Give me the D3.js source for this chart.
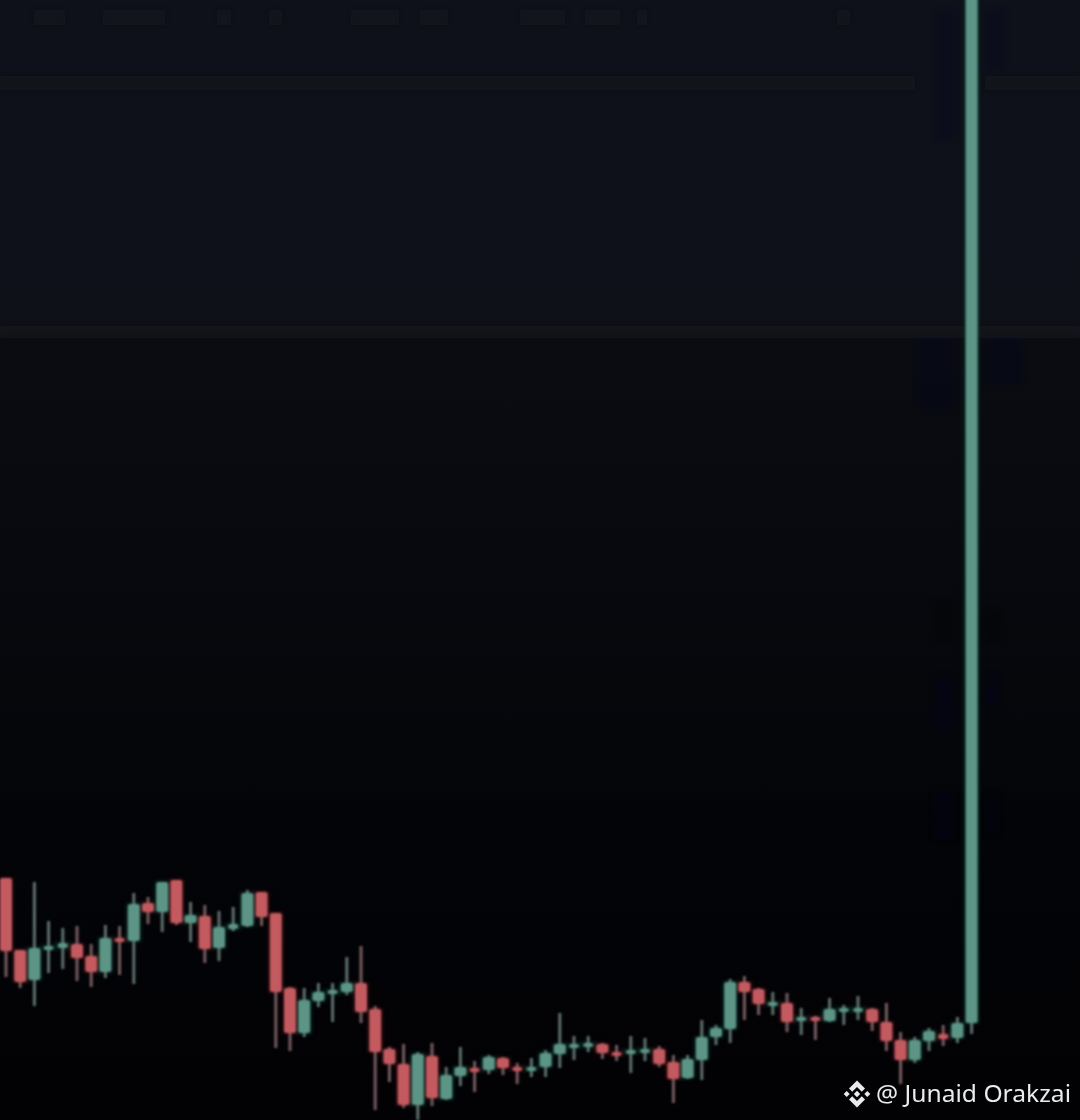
<!DOCTYPE html>
<html><head><meta charset="utf-8">
<script src="https://cdn.jsdelivr.net/npm/d3@7"></script>
<style>html,body{margin:0;padding:0;background:#020204;overflow:hidden}svg{display:block}</style>
</head><body>
<svg id="chart" width="1080" height="1120"></svg>
<script>
const direction = "RRGGG"+"RRGRG"+"RGRGR"+"GGGRR"+"RGGGG"+"RRRRG"+"RGGRG"+"RRGGG"+"GGRRG"+"GRRGG"+"GGRRG"+"RGRGG"+"GRRRG"+"GRGG";
const high = [24.2,17.0,23.8,19.9,19.2,19.4,17.6,19.5,19.4,22.7,22.3,23.8,24.0,21.8,21.5,20.9,21.3,23.0,22.8,20.7,13.3,13.2,13.7,13.7,16.3,17.4,11.4,7.3,7.6,6.8,7.7,5.3,7.3,5.9,6.5,6.3,5.7,6.2,7.0,10.7,8.4,8.4,7.7,7.5,8.4,8.2,7.4,6.5,6.5,10.0,9.5,14.1,14.4,13.2,12.8,12.7,11.2,10.4,12.2,11.5,12.4,11.2,11.7,8.8,8.3,9.2,9.5,10.3,113];
const bodyTop = [24.2,17.0,17.2,17.4,17.7,17.6,16.4,18.2,18.2,21.6,21.7,23.8,24.0,20.5,20.4,19.3,19.6,22.7,22.8,20.7,13.2,12.0,12.8,13.0,13.7,13.7,11.1,7.1,5.6,6.6,6.4,4.5,5.3,5.2,6.3,6.2,5.3,5.3,6.7,7.6,7.6,7.7,7.6,6.8,7.0,7.1,7.1,5.8,6.1,8.3,9.2,13.8,13.8,13.1,11.8,11.7,10.3,10.3,11.1,11.2,11.2,11.1,9.8,8.0,8.0,8.9,8.6,9.7,113];
const bodyBottom = [16.9,13.8,14.0,17.1,17.2,16.2,14.8,14.8,17.9,17.9,20.8,20.8,19.7,19.7,17.1,17.2,19.1,19.4,20.3,12.8,8.7,8.7,11.9,12.6,12.8,10.8,6.8,5.6,1.5,1.5,2.2,2.1,4.4,5.1,5.0,5.2,5.1,5.1,5.3,6.6,7.3,7.3,6.7,6.6,6.7,6.9,5.6,4.1,4.2,6.0,8.3,9.1,12.8,11.6,11.5,9.8,9.9,10.0,9.9,10.9,10.9,9.8,7.9,6.0,6.0,7.9,8.1,8.2,9.7];
const low = [14.3,13.2,11.4,14.7,15.1,13.9,13.3,14.2,14.5,13.6,19.6,18.8,19.5,17.8,15.7,15.9,18.9,19.3,19.4,7.2,6.9,8.3,11.3,9.8,12.5,9.7,1.0,3.8,1.2,0,1.4,2.0,3.4,2.8,4.6,4.5,3.6,4.3,4.3,5.2,6.0,6.8,6.1,5.9,4.7,5.9,5.3,1.7,4.1,4.0,7.5,7.7,10.0,10.5,10.5,8.8,8.5,8.0,9.8,9.5,10.0,8.9,6.9,3.6,5.7,6.9,7.4,7.7,8.6];
const watermark = "@ Junaid Orakzai";

const candles = d3.range(high.length).map(i => ({i, up: direction[i]==="G", h: high[i], t: bodyTop[i], b: bodyBottom[i], l: low[i]}));
const W = 1080, H = 1120;
const x = d3.scaleLinear().domain([0, 68]).range([6, 971.6]);
const y = d3.scaleLinear().domain([0, 112]).range([H, 0]);
const svg = d3.select("#chart");
const defs = svg.append("defs");

const grad = defs.append("linearGradient").attr("id","bg").attr("x1",0).attr("x2",0).attr("y1",0).attr("y2",1);
[[0,"#0e1119"],[0.295,"#0f1119"],[0.307,"#0a0c12"],[0.5,"#08090e"],[0.69,"#05060a"],[0.72,"#030407"],[1,"#020205"]]
  .forEach(([o,c]) => grad.append("stop").attr("offset",o).attr("stop-color",c));
const soft = defs.append("filter").attr("id","soft").attr("x","-60%").attr("y","-5%").attr("width","220%").attr("height","110%");
soft.append("feGaussianBlur").attr("stdDeviation",0.8);
const glow = defs.append("filter").attr("id","glow").attr("x","-100%").attr("y","-10%").attr("width","300%").attr("height","120%");
glow.append("feGaussianBlur").attr("stdDeviation",2);
const haze = defs.append("filter").attr("id","haze").attr("x","-30%").attr("y","-30%").attr("width","160%").attr("height","160%");
haze.append("feGaussianBlur").attr("stdDeviation",2.5);

svg.append("rect").attr("width",W).attr("height",H).attr("fill","url(#bg)");

// faint compression residue carried by the source frame
const residue = svg.append("g").attr("filter","url(#haze)");
const residueBlocks = [
  [0,76,915,14,"#1b1a20",0.3],[985,76,95,14,"#1b1a20",0.3],
  [0,326,1080,12,"#1d1219",0.35],
  [34,10,31,15,"#1c1d24",0.2],[103,10,62,15,"#1c1d24",0.2],[217,10,14,15,"#1c1d24",0.2],[269,10,13,15,"#1c1d24",0.2],
  [351,10,48,15,"#1c1d24",0.2],[420,10,28,15,"#1c1d24",0.2],[520,10,45,15,"#1c1d24",0.2],[585,10,35,15,"#1c1d24",0.2],
  [637,10,10,15,"#1c1d24",0.2],[837,10,13,15,"#1c1d24",0.2],
  [935,10,20,130,"#171a20",0.2],[985,10,20,60,"#171a20",0.2],
  [918,340,36,70,"#12131a",0.25],[985,340,36,45,"#12131a",0.25],
  [934,600,18,40,"#15151b",0.2],[985,610,16,30,"#15151b",0.2],
  [934,675,20,55,"#121218",0.25],[985,675,14,30,"#121218",0.25],
  [934,790,20,50,"#141419",0.25],[985,795,14,40,"#141419",0.25]
];
residue.selectAll("rect").data(residueBlocks).join("rect")
  .attr("x",d=>d[0]).attr("y",d=>d[1]).attr("width",d=>d[2]).attr("height",d=>d[3])
  .attr("fill",d=>d[4]).attr("opacity",d=>d[5]);

const colour = d => d.up ? "#5c9586" : "#c25a61";
const wick = d => d.up ? "#5f716c" : "#765c5e";

const glowG = svg.append("g").attr("filter","url(#glow)").attr("opacity",0.6);
glowG.selectAll("rect").data(candles).join("rect")
  .attr("x", d => x(d.i)-7.5).attr("width",15)
  .attr("y", d => y(d.t)-1).attr("height", d => Math.max(5, y(d.b)-y(d.t)+2))
  .attr("fill", d => d.up ? "#0f3a33" : "#4a1418");

const g = svg.append("g").attr("filter","url(#soft)");
g.selectAll("line").data(candles).join("line")
  .attr("x1", d => x(d.i)).attr("x2", d => x(d.i))
  .attr("y1", d => y(d.h)).attr("y2", d => y(d.l))
  .attr("stroke", wick).attr("stroke-width",3);
g.selectAll("rect").data(candles).join("rect")
  .attr("x", d => x(d.i)-(y(d.b)-y(d.t) < 6 ? 5 : 6)).attr("width", d => y(d.b)-y(d.t) < 6 ? 10 : 12)
  .attr("y", d => y(d.t)).attr("height", d => Math.max(4, y(d.b)-y(d.t)))
  .attr("rx",2.5).attr("fill", colour);

// Binance mark and credit
const logo = svg.append("g").attr("transform","translate(857,1094)").attr("fill","#e8ecea");
logo.append("path").attr("d","M0,-13.5 L8,-5.5 L4.8,-2.3 L0,-7 L-4.8,-2.3 L-8,-5.5 Z");
logo.append("path").attr("d","M0,13.5 L8,5.5 L4.8,2.3 L0,7 L-4.8,2.3 L-8,5.5 Z");
logo.append("path").attr("d","M0,-3.2 L3.2,0 L0,3.2 L-3.2,0 Z");
logo.append("path").attr("d","M-10.3,-3 L-7.3,0 L-10.3,3 L-13.3,0 Z");
logo.append("path").attr("d","M10.3,-3 L13.3,0 L10.3,3 L7.3,0 Z");
svg.append("text").attr("x",876).attr("y",1102).attr("fill","#e8ecea")
  .attr("font-family","'Noto Sans','Open Sans',sans-serif").attr("font-size",24)
  .attr("textLength",195).attr("lengthAdjust","spacingAndGlyphs").text(watermark);
</script>
</body></html>
